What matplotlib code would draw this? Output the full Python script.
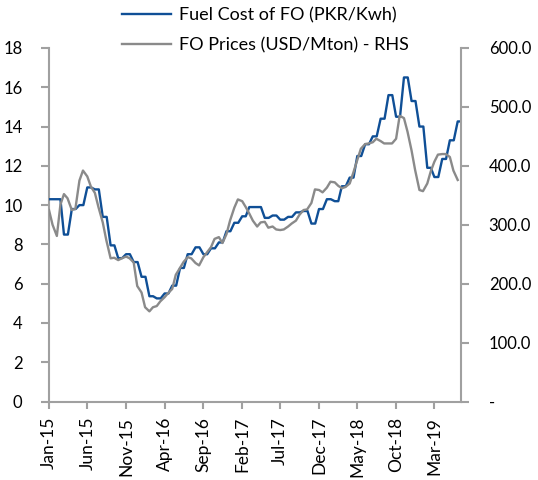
import numpy as np
import pandas as pd
import matplotlib
matplotlib.use("Agg")
import matplotlib.pyplot as plt
import matplotlib.dates as mdates

# ---------------- data ----------------
months = pd.date_range("2015-01-01", "2019-06-01", freq="MS")  # Jan-15 .. Jun-19

fuel_cost = [10.3, 10.3, 8.5, 9.8, 10.0, 10.9, 10.8, 9.4, 7.95, 7.3, 7.5, 7.1,       # 2015
             6.35, 5.36, 5.25, 5.5, 5.9, 6.8, 7.5, 7.85, 7.5, 7.8, 8.1, 8.67,       # 2016
             9.1, 9.43, 9.9, 9.9, 9.35, 9.47, 9.26, 9.4, 9.63, 9.7, 9.06, 9.8,      # 2017
             10.3, 10.2, 10.96, 11.4, 12.5, 13.1, 13.5, 14.4, 15.6, 14.5, 16.5, 15.3,  # 2018
             14.0, 11.9, 11.43, 12.35, 13.3, 14.26]                               # 2019

fo_dates = pd.date_range("2015-01-01", periods=107, freq="SMS")  # semi-monthly
fo_price = [325, 300, 281, 334, 352, 345, 325, 327, 375, 392, 382, 365,
            354, 330, 304, 274, 243, 244, 240, 243, 246, 243, 236, 196,
            185, 160, 153, 160, 162, 170, 177, 184, 191, 215, 227, 237,
            245, 243, 235, 231, 245, 253, 262, 276, 279, 269, 284, 307,
            329, 343, 340, 330, 319, 307, 297, 304, 305, 295, 297, 292,
            291, 292, 297, 302, 307, 317, 325, 326, 337, 360, 359, 355,
            363, 373, 372, 366, 362, 364, 370, 388, 410, 429, 437, 438,
            440, 446, 442, 438, 438, 438, 446, 485, 481, 458, 426, 393,
            359, 357, 370, 391, 407, 419, 420, 420, 415, 392, 376]

tick_labels = ["Jan-15", "Jun-15", "Nov-15", "Apr-16", "Sep-16", "Feb-17",
               "Jul-17", "Dec-17", "May-18", "Oct-18", "Mar-19"]
right_labels = ["-", "100.0", "200.0", "300.0", "400.0", "500.0", "600.0"]

label_fc = "Fuel Cost of FO (PKR/Kwh)"
label_fo = "FO Prices (USD/Mton) - RHS"

# ---------------- style ----------------
FONT = "Lato"
FS_Y = 12
FS_X = 12.5
FS_LEG = 13
BLUE = "#0F4F96"
GREY = "#8A8A8A"
AXC = "#A0A0A0"

plt.rcParams["font.family"] = [FONT, "DejaVu Sans"]

fig = plt.figure(figsize=(5.38, 4.8), dpi=100)
L, R, T, B = 49, 461, 48, 401.5
ax = fig.add_axes([L / 538, (480 - B) / 480, (R - L) / 538, (B - T) / 480])
ax2 = ax.twinx()

xnum = mdates.date2num(months)
xmin = mdates.date2num(pd.Timestamp("2015-01-01"))
xmax = mdates.date2num(pd.Timestamp("2019-06-14"))

# hold each monthly value for part of the month, then ramp to the next
xs, ys = [], []
for i, v in enumerate(fuel_cost):
    x0 = xnum[i]
    if i + 1 < len(xnum):
        x1 = xnum[i + 1]
        xs += [x0, x0 + 0.5 * (x1 - x0)]
        ys += [v, v]
    else:
        xs += [x0, xmax]
        ys += [v, v]

ax.plot(xs, ys, color=BLUE, lw=1.7, label=label_fc, zorder=3)
ax2.plot(mdates.date2num(fo_dates), fo_price, color=GREY, lw=1.7, label=label_fo, zorder=2)

ax.set_xlim(xmin, xmax)
ax.set_ylim(0, 18)
ax2.set_ylim(0, 600)

ax.set_yticks(np.arange(0, 19, 2))
ax.set_yticklabels([str(v) for v in range(0, 19, 2)])
ax2.set_yticks(np.arange(0, 601, 100))
ax2.set_yticklabels(right_labels)

ax.set_xticks(xnum[::5])
ax.set_xticklabels(tick_labels, rotation=90)

for a in (ax, ax2):
    a.spines["top"].set_visible(False)
    for s in ("left", "right", "bottom"):
        a.spines[s].set_color(AXC)
        a.spines[s].set_linewidth(1.5)
    a.tick_params(colors=AXC, labelcolor="black", labelsize=FS_Y, width=1.5, length=6)
    a.set_facecolor("none")

ax.spines["right"].set_visible(False)
ax2.spines["left"].set_visible(False)
ax2.spines["bottom"].set_visible(False)
ax.tick_params(axis="y", pad=13)
ax.tick_params(axis="x", pad=6, length=5, labelsize=FS_X)
ax2.tick_params(axis="y", pad=14)

h1, l1 = ax.get_legend_handles_labels()
h2, l2 = ax2.get_legend_handles_labels()
fig.legend(h1 + h2, l1 + l2, loc="upper left", bbox_to_anchor=(122 / 538, 0.985),
           frameon=False, fontsize=FS_LEG, handlelength=2.7, handletextpad=0.45,
           borderpad=0, labelspacing=0.78, borderaxespad=0)

fig.savefig("out.png", dpi=100)
